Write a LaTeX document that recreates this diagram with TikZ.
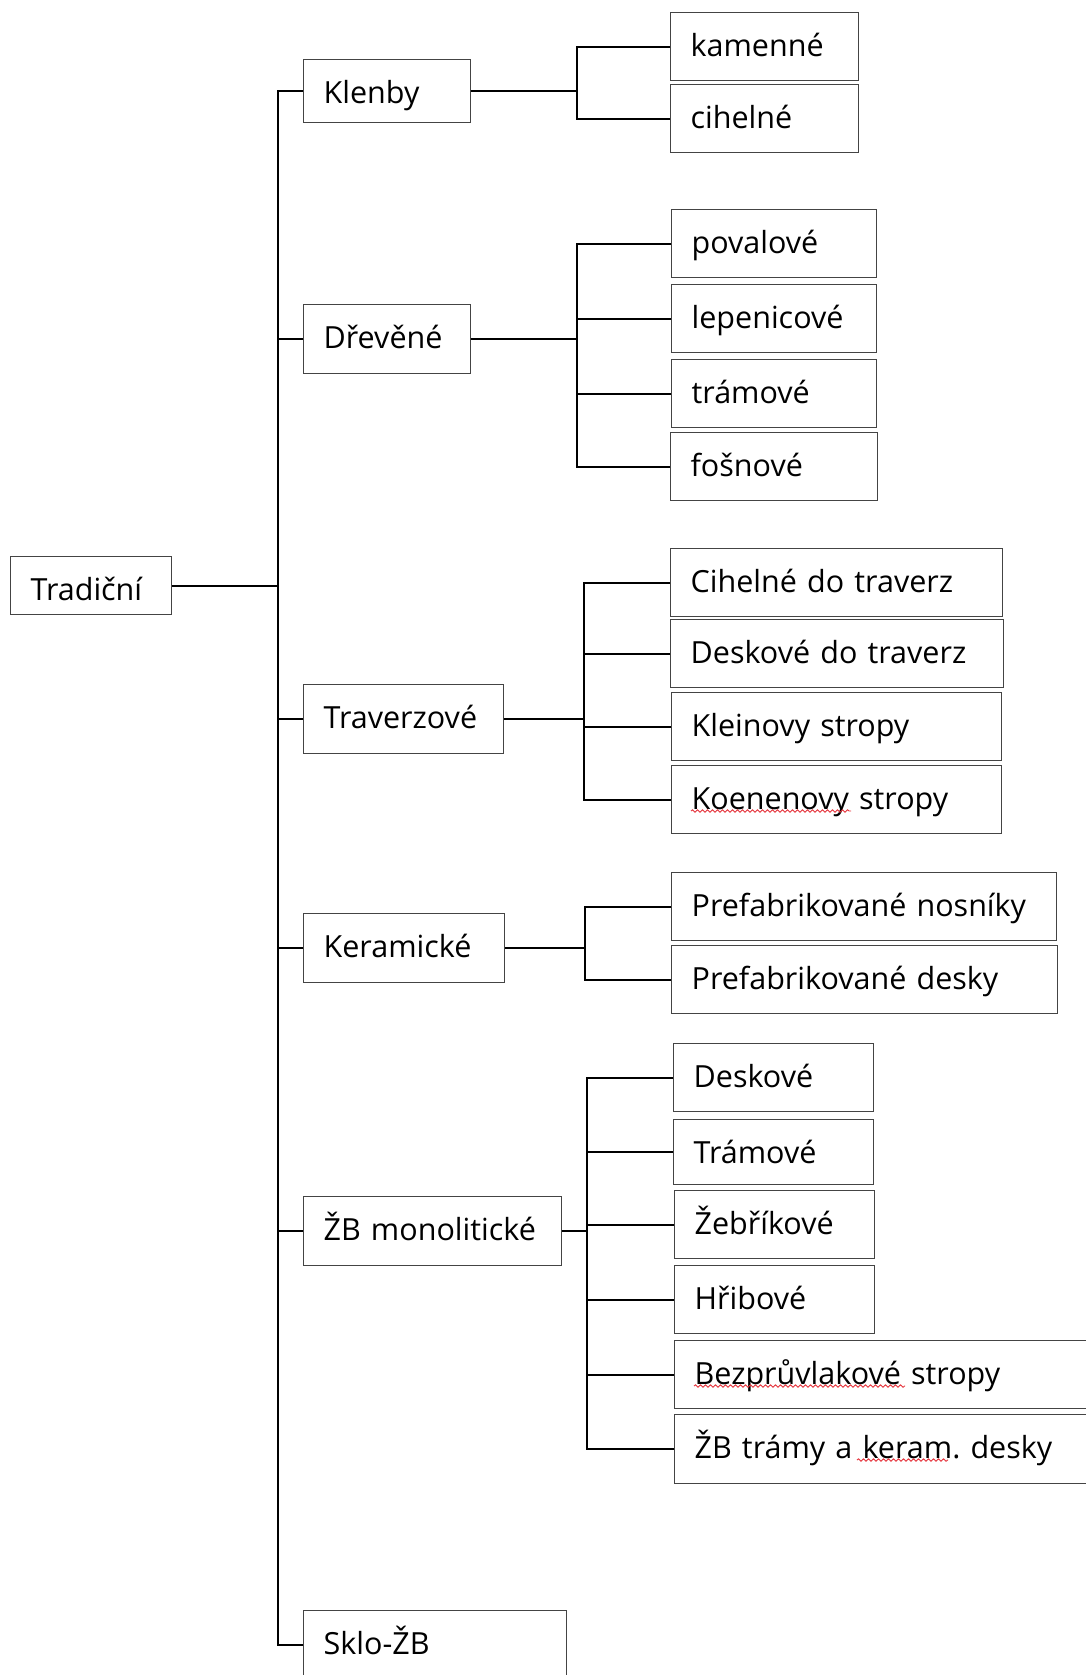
\documentclass[tikz,border=0pt]{standalone}
\usepackage{fontspec}
\setmainfont{Open Sans}
\usetikzlibrary{decorations.pathmorphing}
\definecolor{boxline}{HTML}{444444}
\definecolor{spellred}{HTML}{E5323A}
\frenchspacing
\hyphenpenalty=10000

\begin{document}
\begin{tikzpicture}[x=1pt,y=-1pt,
    box/.style={draw=boxline, line width=1.3pt, anchor=north west, inner xsep=20pt, inner ysep=0pt,
      text width=#1pt, align=left, text height=44pt, text depth=24pt,
      font=\fontsize{30.5}{36}\selectfont},
    conn/.style={line width=2.2pt},
    spell/.style={spellred, line width=0.9pt, decorate, decoration={snake, amplitude=1.2pt, segment length=5pt}}]
  \clip (0,0) rectangle (1086,1675);
  % root and first level
  \node[box=121, text depth=14pt] (trad) at (10,556) {Tradiční};
  \node[box=127, text depth=19pt] (klen) at (303,59) {Klenby};
  \node[box=127, text depth=25pt] (drev) at (303,304) {Dřevěné};
  \node[box=160, text depth=25pt] (trav) at (303,684) {Traverzové};
  \node[box=161, text depth=25pt] (ker) at (303,913) {Keramické};
  \node[box=218, text depth=25pt] (zbm) at (303,1196) {ŽB monolitické};
  \node[box=223] (sklo) at (303,1610) {Sklo-ŽB};
  % Klenby
  \node[box=148] (kam) at (670,12) {kamenné};
  \node[box=148] (cih) at (670,84) {cihelné};
  % Dřevěné
  \node[box=165] (pov) at (671,209) {povalové};
  \node[box=165] (lep) at (671,284) {lepenicové};
  \node[box=165] (tram) at (671,359) {trámové};
  \node[box=167] (fos) at (670,432) {fošnové};
  % Traverzové
  \node[box=292] (cdt) at (670,548) {Cihelné do traverz};
  \node[box=293] (ddt) at (670,619) {Deskové do traverz};
  \node[box=290] (klei) at (671,692) {Kleinovy stropy};
  \node[box=290] (koen) at (671,765) {Koenenovy stropy};
  % Keramické
  \node[box=345] (pnos) at (671,872) {Prefabrikované nosníky};
  \node[box=346] (pdes) at (671,945) {Prefabrikované desky};
  % ŽB monolitické
  \node[box=160] (desk) at (673,1043) {Deskové};
  \node[box=160, text depth=21pt] (tramz) at (673,1119) {Trámové};
  \node[box=160] (zebr) at (674,1190) {Žebříkové};
  \node[box=160] (hrib) at (674,1265) {Hřibové};
  \node[box=410] (bezp) at (674,1340) {Bezprůvlakové stropy};
  \node[box=410, text depth=25pt] (zbtr) at (674,1414) {ŽB trámy a keram. desky};

  \draw[conn] (trad.east) -- ++(106,0) coordinate (trunk);
  \foreach \n in {klen,drev,trav,ker,zbm,sklo} \draw[conn] (\n.west) -| (trunk);
  \draw[conn] (klen.east) -- ++(106,0) coordinate (jklen);
  \foreach \n in {kam,cih} \draw[conn] (\n.west) -| (jklen);
  \draw[conn] (drev.east) -- ++(106,0) coordinate (jdrev);
  \foreach \n in {pov,lep,tram,fos} \draw[conn] (\n.west) -| (jdrev);
  \draw[conn] (trav.east) -- ++(80,0) coordinate (jtrav);
  \foreach \n in {cdt,ddt,klei,koen} \draw[conn] (\n.west) -| (jtrav);
  \draw[conn] (ker.east) -- ++(80,0) coordinate (jker);
  \foreach \n in {pnos,pdes} \draw[conn] (\n.west) -| (jker);
  \draw[conn] (zbm.east) -- ++(25,0) coordinate (jzbm);
  \foreach \n in {desk,tramz,zebr,hrib,bezp,zbtr} \draw[conn] (\n.west) -| (jzbm);

  % spell check marks
  \draw[spell] ([shift={(20,46)}]koen.north west) -- ++(160,0);
  \draw[spell] ([shift={(20,46)}]bezp.north west) -- ++(211,0);
  \draw[spell] ([shift={(183,46)}]zbtr.north west) -- ++(91,0);
\end{tikzpicture}
\end{document}
